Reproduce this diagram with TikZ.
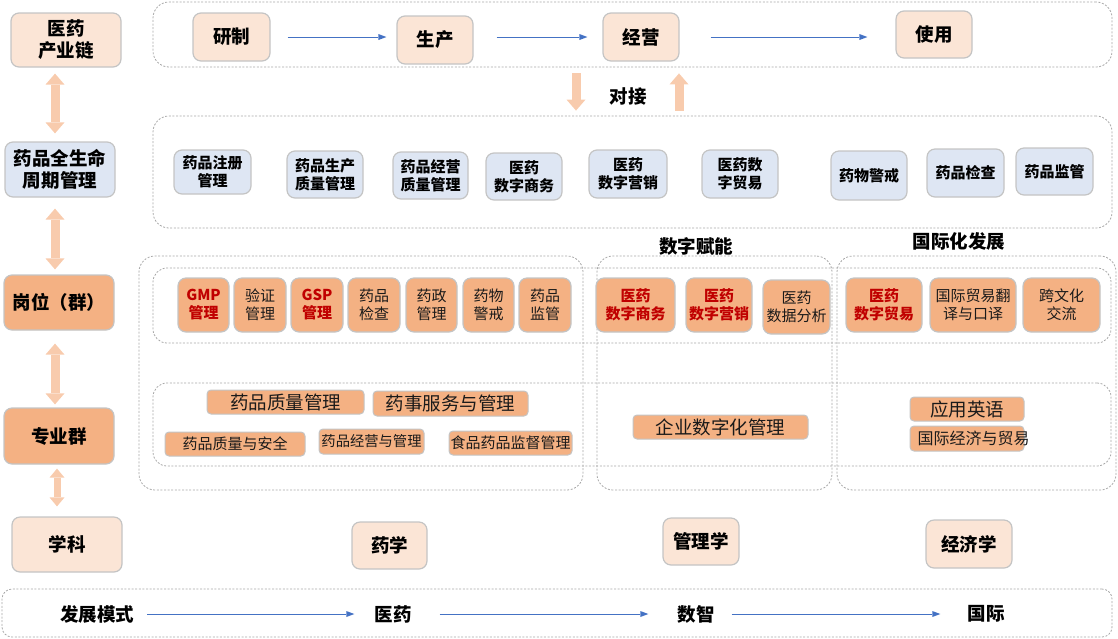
\documentclass[tikz,border=0pt]{standalone}
\usepackage{fontspec}
\setmainfont{Noto Sans CJK SC}
\usetikzlibrary{arrows.meta}
\definecolor{peach}{HTML}{FBE5D6}
\definecolor{lblue}{HTML}{DEE6F3}
\definecolor{orangeA}{HTML}{F4B183}
\definecolor{bgray}{HTML}{C4C4C4}
\definecolor{dgray}{HTML}{A8A8A8}
\definecolor{apeach}{HTML}{F8CBAD}
\definecolor{ablue}{HTML}{4472C4}
\definecolor{dred}{HTML}{C00000}
\definecolor{txt}{HTML}{1A1A1A}
\tikzset{
  box/.style={draw=bgray, line width=1.2pt, rounded corners=8pt, inner sep=0pt, align=center, text=black},
  peachbox/.style={box, fill=peach},
  bluebox/.style={box, fill=lblue},
  orangebox/.style={box, fill=orangeA},
  flatbox/.style={draw=bgray, line width=1pt, rounded corners=4pt, fill=orangeA, inner sep=0pt, text=txt},
  container/.style={draw=dgray, line width=0.8pt, dash pattern=on 2pt off 1.6pt, rounded corners=16pt, inner sep=0pt},
  dbl/.style={draw=apeach, line width=9pt, {Triangle[width=19pt,length=11pt,line width=0pt]}-{Triangle[width=19pt,length=11pt,line width=0pt]}},
  dblsmall/.style={draw=apeach, line width=7pt, {Triangle[width=15pt,length=9pt,line width=0pt]}-{Triangle[width=15pt,length=9pt,line width=0pt]}},
  sgl/.style={draw=apeach, line width=9pt, -{Triangle[width=19pt,length=11pt,line width=0pt]}},
  barrow/.style={draw=ablue, line width=1pt, -{Triangle[width=6pt,length=8pt,line width=0pt]}},
  big/.style={font=\fontsize{18.5}{22}\selectfont\bfseries},
  bigr/.style={font=\fontsize{18.5}{22}\selectfont},
  small/.style={font=\fontsize{15}{18}\selectfont\bfseries},
  smallr/.style={font=\fontsize{15}{18}\selectfont, text=txt},
  red/.style={font=\fontsize{15}{18}\selectfont\bfseries, text=dred},
  plain/.style={inner sep=0pt, text=black}
}
\begin{document}
\begin{tikzpicture}[x=1pt,y=-1pt]
\useasboundingbox (0,0) rectangle (1118,638);

% ---------- dashed containers ----------
\node[container,minimum width=959pt,minimum height=65pt] (topC) at (632.5,34.5) {};
\node[container,minimum width=959pt,minimum height=112pt] (midC) at (632.5,172) {};
\node[container,minimum width=444pt,minimum height=234pt] (colL) at (361,373) {};
\node[container,minimum width=235pt,minimum height=234pt] (colM) at (714.5,373) {};
\node[container,minimum width=279pt,minimum height=234pt] (colR) at (976.5,373) {};
\node[container,minimum width=958pt,minimum height=75pt,rounded corners=14pt] (row1) at (632,305.5) {};
\node[container,minimum width=958pt,minimum height=83pt,rounded corners=14pt] (row2) at (632,424.5) {};
\node[container,minimum width=1110pt,minimum height=48pt,rounded corners=10pt] (botC) at (557,613) {};

% ---------- left column ----------
\node[peachbox,big,minimum width=110pt,minimum height=54pt] (lchain) at (66,40) {医药\\产业链};
\node[bluebox,big,minimum width=110pt,minimum height=55pt] (llife) at (60,169.5) {药品全生命\\周期管理};
\node[orangebox,big,minimum width=110pt,minimum height=55pt] (lpost) at (59,302.5) {岗位（群）};
\node[orangebox,big,minimum width=110pt,minimum height=56pt] (lmajor) at (59,436) {专业群};
\node[peachbox,big,minimum width=110pt,minimum height=55pt] (lsubj) at (67,544.5) {学科};

\coordinate (ax) at (55,0);
\coordinate (ax2) at (57,0);
\draw[dbl,shorten <=6pt,shorten >=8pt] (lchain.south -| ax) -- (llife.north -| ax);
\draw[dbl,shorten <=11pt,shorten >=5pt] (llife.south -| ax) -- (lpost.north -| ax);
\draw[dbl,shorten <=13pt,shorten >=3pt] (lpost.south -| ax) -- (lmajor.north -| ax);
\draw[dblsmall,shorten <=4pt,shorten >=10pt] (lmajor.south -| ax2) -- (lsubj.north -| ax2);

% ---------- industry chain ----------
\node[peachbox,big,minimum width=77pt,minimum height=48pt] (yz) at (231.5,37) {研制};
\node[peachbox,big,minimum width=76pt,minimum height=48pt] (sc) at (435,40) {生产};
\node[peachbox,big,minimum width=76pt,minimum height=48pt] (jy) at (641,37) {经营};
\node[peachbox,big,minimum width=76pt,minimum height=47pt] (sy) at (934,34.5) {使用};
\draw[barrow,shorten <=17pt,shorten >=10pt] (yz.east) -- (yz.east -| sc.west);
\draw[barrow,shorten <=23pt,shorten >=15pt] (jy.west -| sc.east) -- (jy.west);
\draw[barrow,shorten <=31pt,shorten >=28pt] (jy.east) -- (jy.east -| sy.west);

% ---------- docking ----------
\coordinate (djx1) at (576,0);
\coordinate (djx2) at (679,0);
\draw[sgl,shorten <=6pt,shorten >=5pt] (topC.south -| djx1) -- (midC.north -| djx1);
\draw[sgl,shorten <=5pt,shorten >=6pt] (midC.north -| djx2) -- (topC.south -| djx2);
\node[plain,big] (dj) at (628,96) {对接};

% ---------- lifecycle row ----------
\node[bluebox,small,minimum width=77pt,minimum height=44pt] (b1) at (212.5,172) {药品注册\\管理};
\node[bluebox,small,minimum width=76pt,minimum height=47pt] (b2) at (325,174.5) {药品生产\\质量管理};
\node[bluebox,small,minimum width=75pt,minimum height=47pt] (b3) at (430.5,175.5) {药品经营\\质量管理};
\node[bluebox,small,minimum width=76pt,minimum height=47pt] (b4) at (524,176.5) {医药\\数字商务};
\node[bluebox,small,minimum width=78pt,minimum height=48pt] (b5) at (628,174) {医药\\数字营销};
\node[bluebox,small,minimum width=76pt,minimum height=48pt] (b6) at (740,174) {医药数\\字贸易};
\node[bluebox,small,minimum width=76pt,minimum height=49pt] (b7) at (869,175.5) {药物警戒};
\node[bluebox,small,minimum width=77pt,minimum height=48pt] (b8) at (965.5,173) {药品检查};
\node[bluebox,small,minimum width=77pt,minimum height=47pt] (b9) at (1054.5,171.5) {药品监管};

\node[plain,big] (szfn) at (696,246) {数字赋能};
\node[plain,big] (gjh) at (959,241) {国际化发展};

% ---------- posts row ----------
\node[orangebox,red,minimum width=51pt,minimum height=54pt] (p1) at (203.5,305) {GMP\\管理};
\node[orangebox,smallr,minimum width=52pt,minimum height=54pt] (p2) at (260,305) {验证\\管理};
\node[orangebox,red,minimum width=52pt,minimum height=54pt] (p3) at (317,305) {GSP\\管理};
\node[orangebox,smallr,minimum width=52pt,minimum height=54pt] (p4) at (374,305) {药品\\检查};
\node[orangebox,smallr,minimum width=51pt,minimum height=54pt] (p5) at (431.5,305) {药政\\管理};
\node[orangebox,smallr,minimum width=51pt,minimum height=54pt] (p6) at (488.5,305) {药物\\警戒};
\node[orangebox,smallr,minimum width=52pt,minimum height=54pt] (p7) at (545,305) {药品\\监管};
\node[orangebox,red,minimum width=79pt,minimum height=54pt] (p8) at (635.5,305) {医药\\数字商务};
\node[orangebox,red,minimum width=66pt,minimum height=54pt] (p9) at (719,305) {医药\\数字营销};
\node[orangebox,smallr,minimum width=67pt,minimum height=54pt] (p10) at (796.5,307) {医药\\数据分析};
\node[orangebox,red,minimum width=76pt,minimum height=54pt] (p11) at (884,305) {医药\\数字贸易};
\node[orangebox,smallr,minimum width=86pt,minimum height=54pt] (p12) at (973,305) {国际贸易翻\\译与口译};
\node[orangebox,smallr,minimum width=77pt,minimum height=54pt] (p13) at (1061.5,305) {跨文化\\交流};

% ---------- majors row ----------
\node[flatbox,bigr,minimum width=157pt,minimum height=24pt] (m1) at (285.5,402) {药品质量管理};
\node[flatbox,bigr,minimum width=155pt,minimum height=25pt] (m2) at (450.5,403.5) {药事服务与管理};
\node[flatbox,smallr,minimum width=140pt,minimum height=24pt] (m3) at (235,444) {\raisebox{-2pt}{药品质量与安全}};
\node[flatbox,font=\fontsize{14.3}{17}\selectfont,minimum width=105pt,minimum height=25pt] (m4) at (371.5,441.5) {药品经营与管理};
\node[flatbox,smallr,minimum width=123pt,minimum height=24pt] (m5) at (510.5,443) {食品药品监督管理};
\node[flatbox,bigr,minimum width=175pt,minimum height=24pt] (m6) at (720.5,427) {企业数字化管理};
\node[flatbox,bigr,minimum width=114pt,minimum height=24pt] (m7) at (967,409) {应用英语};
\node[flatbox,minimum width=114pt,minimum height=25pt,
  label={[font=\fontsize{16}{19}\selectfont,text=txt,inner sep=0pt,xshift=6.5pt]center:国际经济与贸易}] (m8) at (967,438.5) {};

% ---------- disciplines ----------
\node[peachbox,big,minimum width=75pt,minimum height=47pt] (s1) at (389.5,545.5) {药学};
\node[peachbox,big,minimum width=76pt,minimum height=47pt] (s2) at (701,541.5) {管理学};
\node[peachbox,big,minimum width=86pt,minimum height=48pt] (s3) at (969,544) {经济学};

% ---------- development mode ----------
\node[plain,big] (f0) at (97,614) {发展模式};
\node[plain,big] (f1) at (393,614) {医药};
\node[plain,big] (f2) at (696,614) {数智};
\node[plain,big] (f3) at (986,614) {国际};
\draw[barrow,shorten <=13pt,shorten >=20pt] (f0.east) -- (f1.west);
\draw[barrow,shorten <=28pt,shorten >=29pt] (f1.east) -- (f2.west);
\draw[barrow,shorten <=17pt,shorten >=27pt] (f2.east) -- (f3.west);
\end{tikzpicture}
\end{document}
